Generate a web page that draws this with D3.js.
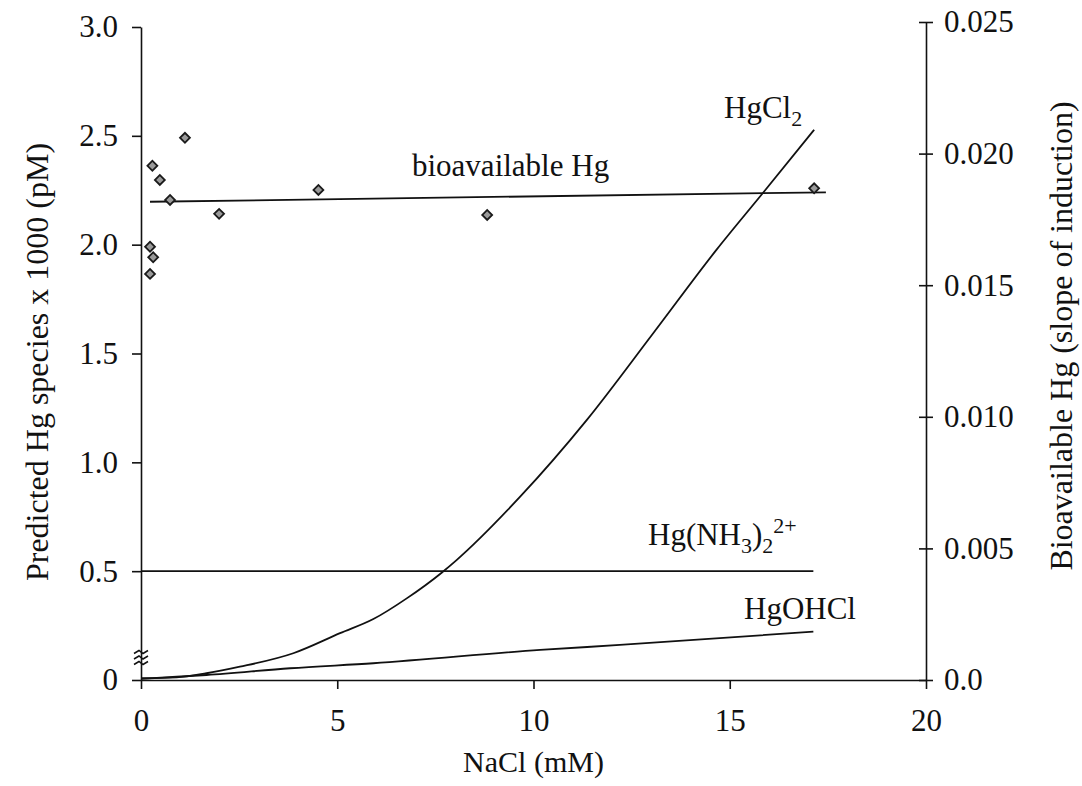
<!DOCTYPE html>
<html>
<head>
<meta charset="utf-8">
<script src="https://cdn.jsdelivr.net/npm/d3@7"></script>
<style>
  body { margin: 0; background: #fff; }
  svg text { font-family: "Liberation Serif", "Times New Roman", serif; fill: #111; }
  .axis path, .axis line { stroke: #111; stroke-width: 1.6; }
  .curve { fill: none; stroke: #111; stroke-width: 1.8; }
</style>
</head>
<body>
<script>
'use strict';

let WIDTH = 1082;
let HEIGHT = 786;

// HgCl2 predicted (left axis, pM x 1000)
let hgcl2X = [0, 0.91, 1.67, 2.52, 3.88, 5.07, 5.92, 6.77, 7.66, 8.04, 9.66, 11.36, 13.05, 14.66, 15.87, 17.15];
let hgcl2Y = [0.008, 0.012, 0.031, 0.061, 0.123, 0.215, 0.280, 0.375, 0.493, 0.551, 0.842, 1.195, 1.593, 1.976, 2.243, 2.528];

// HgOHCl predicted
let hgohclX = [0, 0.91, 1.67, 3.80, 5.92, 10.17, 12.20, 17.13];
let hgohclY = [0.005, 0.015, 0.023, 0.054, 0.077, 0.138, 0.161, 0.222];

// Hg(NH3)2 2+ predicted
let hgnh3X = [0, 17.13];
let hgnh3Y = [0.5, 0.5];

// measured bioavailable Hg (right axis)
let bioX = [1.12, 0.29, 0.48, 0.74, 4.52, 1.99, 0.23, 0.31, 0.23, 8.82, 17.15];
let bioY = [0.0206, 0.01954, 0.0190, 0.01824, 0.01862, 0.01771, 0.01646, 0.01606, 0.01543, 0.01767, 0.01868];

// fitted bioavailable Hg line
let bioFitX = [0.23, 17.45];
let bioFitY = [0.01817, 0.01853];

let xTicks = [0, 5, 10, 15, 20];
let leftTicks = [0, 0.5, 1.0, 1.5, 2.0, 2.5, 3.0];
let leftTickLabels = ['0', '0.5', '1.0', '1.5', '2.0', '2.5', '3.0'];
let rightTicks = [0, 0.005, 0.010, 0.015, 0.020, 0.025];
let rightTickLabels = ['0.0', '0.005', '0.010', '0.015', '0.020', '0.025'];

let x = d3.scaleLinear().domain([0, 20]).range([141, 926]);
let yL = d3.scaleLinear().domain([0, 3]).range([680, 27]);
let yR = d3.scaleLinear().domain([0, 0.025]).range([680, 22]);

let svg = d3.select('body')
    .append('svg')
    .attr('width', WIDTH)
    .attr('height', HEIGHT);

// axes
let xAxis = svg.append('g')
    .attr('class', 'axis')
    .attr('transform', 'translate(0,' + yL(0) + ')')
    .call(d3.axisBottom(x).tickValues(xTicks).tickSize(9).tickSizeOuter(0).tickPadding(20));

let leftAxis = svg.append('g')
    .attr('class', 'axis')
    .attr('transform', 'translate(' + x(0) + ',0)')
    .call(d3.axisLeft(yL).tickValues(leftTicks).tickSize(9).tickSizeOuter(0).tickPadding(14)
        .tickFormat((d, i) => leftTickLabels[i]));

let rightAxis = svg.append('g')
    .attr('class', 'axis')
    .attr('transform', 'translate(' + x(20) + ',0)')
    .call(d3.axisRight(yR).tickValues(rightTicks).tickSize(7).tickSizeOuter(0).tickPadding(11)
        .tickFormat((d, i) => rightTickLabels[i]));
// right ticks cross the axis
rightAxis.selectAll('.tick line').attr('x1', -7);

svg.selectAll('.axis .tick text')
    .style('font-size', '31px')
    .style('font-family', '"Liberation Serif", "Times New Roman", serif')
    .attr('fill', '#111');

// axis break marks on left axis
let breakYs = [652, 657.5, 663];
svg.selectAll('.brk')
    .data(breakYs)
    .enter()
    .append('path')
    .attr('class', 'brk')
    .attr('d', (d) => 'M' + (x(0) - 7) + ',' + (d + 1.5) + ' L' + (x(0) - 2) + ',' + (d - 1.5)
        + ' L' + (x(0) + 2) + ',' + (d + 1.5) + ' L' + (x(0) + 7) + ',' + (d - 1.5))
    .attr('fill', 'none')
    .attr('stroke', '#111')
    .attr('stroke-width', 1.5);

// lines
let zip = (xs, ys) => xs.map((v, i) => ({ x: v, y: ys[i] }));

let lineL = d3.line()
    .curve(d3.curveMonotoneX)
    .x((d) => x(d.x))
    .y((d) => yL(d.y));

let lineR = d3.line()
    .x((d) => x(d.x))
    .y((d) => yR(d.y));

svg.append('path').attr('class', 'curve').attr('d', lineL(zip(hgcl2X, hgcl2Y)));
svg.append('path').attr('class', 'curve').attr('d', lineL(zip(hgohclX, hgohclY)));
svg.append('path').attr('class', 'curve').attr('d', lineL(zip(hgnh3X, hgnh3Y)));
svg.append('path').attr('class', 'curve').attr('stroke-width', 1.5).attr('d', lineR(zip(bioFitX, bioFitY)));

// measured points
svg.selectAll('.pt')
    .data(zip(bioX, bioY))
    .enter()
    .append('rect')
    .attr('class', 'pt')
    .attr('x', -3.5)
    .attr('y', -3.5)
    .attr('width', 7)
    .attr('height', 7)
    .attr('transform', (d) => 'translate(' + x(d.x) + ',' + yR(d.y) + ') rotate(45)')
    .attr('fill', '#9a9a9a')
    .attr('stroke', '#1a1a1a')
    .attr('stroke-width', 1.8);

// series labels
let lab = (tx, ty) => svg.append('text')
    .attr('x', tx)
    .attr('y', ty)
    .style('font-size', '31px');

let t1 = lab(724, 118);
t1.append('tspan').text('HgCl');
t1.append('tspan').text('2').attr('dy', 8).style('font-size', '22px');

lab(412, 176).text('bioavailable Hg');

let t2 = lab(648, 545);
t2.append('tspan').text('Hg(NH');
t2.append('tspan').text('3').attr('dy', 8).style('font-size', '22px');
t2.append('tspan').text(')').attr('dy', -8);
t2.append('tspan').text('2').attr('dy', 8).style('font-size', '22px');
t2.append('tspan').text('2+').attr('dy', -20).style('font-size', '22px');

lab(744, 619).text('HgOHCl');

// axis titles
svg.append('text')
    .attr('x', (x(0) + x(20)) / 2)
    .attr('y', 772)
    .attr('text-anchor', 'middle')
    .style('font-size', '30px')
    .text('NaCl (mM)');

svg.append('text')
    .attr('transform', 'translate(48,' + 362 + ') rotate(-90)')
    .attr('text-anchor', 'middle')
    .style('font-size', '32px')
    .text('Predicted Hg species x 1000 (pM)');

svg.append('text')
    .attr('transform', 'translate(1072,' + 336 + ') rotate(-90)')
    .attr('text-anchor', 'middle')
    .style('font-size', '32px')
    .text('Bioavailable Hg (slope of induction)');
</script>
</body>
</html>
